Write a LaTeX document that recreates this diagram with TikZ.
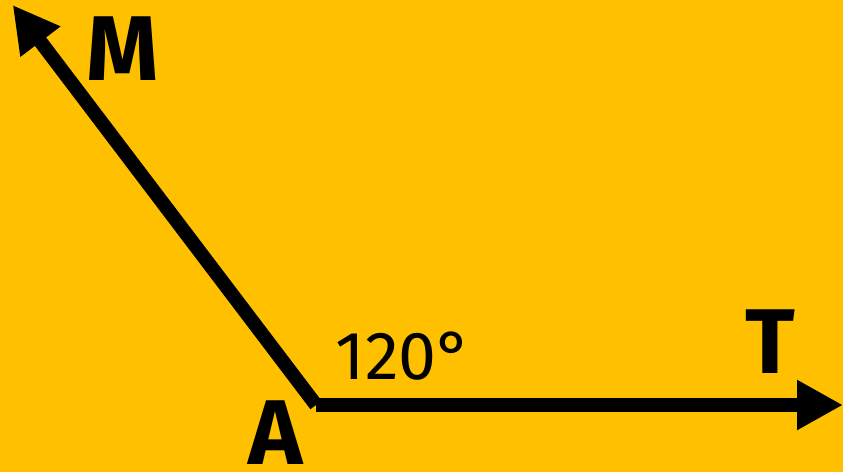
\documentclass[tikz,border=0pt]{standalone}
\usepackage{fontspec}
\setmainfont{Fira Sans}
\usetikzlibrary{arrows.meta}
\definecolor{bg}{HTML}{FFC000}
\begin{document}
\begin{tikzpicture}[x=1pt,y=-1pt,
  ray/.style={line width=14pt,black,-{Triangle[length=46pt,width=47pt]}},
  biglabel/.style={font=\fontsize{92}{92}\selectfont\bfseries,inner sep=0pt},
  anglabel/.style={font=\fontsize{68}{68}\selectfont,inner sep=0pt}]
\fill[bg] (0,0) rectangle (843,472);
\useasboundingbox (0,0) rectangle (843,472);
\coordinate (A) at (316,405);
\coordinate (Mend) at (12.7,5);
\coordinate (Tend) at (843,405);
\draw[ray] (A) -- (Mend);
\draw[ray] (A) -- (Tend);
\node[biglabel] (lM) at (123,49) {M};
\node[biglabel] (lT) at (770,342) {T};
\node[biglabel,anchor=base] (lA) at (276,464) {A};
\node[anglabel] (ang) at (404,356) {120°};
\end{tikzpicture}
\end{document}
